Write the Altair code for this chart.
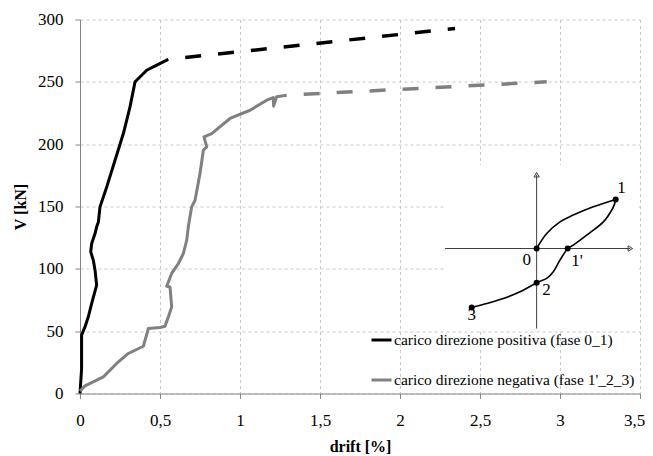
import altair as alt
import pandas as pd

# ---- main curves (drift [%], V [kN]) ----
serie_names = ["carico direzione positiva (fase 0_1)", "carico direzione negativa (fase 1'_2_3)"]
serie_colors = ["#000000", "#808080"]

pos_x = [0, 0.01, 0.01, 0.031, 0.052, 0.073, 0.104, 0.094, 0.083, 0.067, 0.073, 0.094, 0.104, 0.115,
         0.125, 0.167, 0.219, 0.271, 0.3125, 0.344, 0.354, 0.417, 0.458, 0.542, 0.552]
pos_y = [0, 20, 46.8, 53.4, 61.5, 72.2, 86.9, 98.9, 107, 113.6, 120.3, 128.3, 133.7, 137.6,
         149.7, 165.7, 187.1, 208.5, 229.9, 250, 251.3, 259.3, 262, 267.4, 268]

neg_x = [0, 0.031, 0.146, 0.229, 0.302, 0.396, 0.427, 0.5, 0.531, 0.552, 0.573, 0.5625, 0.542, 0.573,
         0.615, 0.646, 0.667, 0.677, 0.698, 0.719, 0.75, 0.771, 0.792, 0.775, 0.823, 0.9375, 1.0625,
         1.167, 1.208, 1.21, 1.229, 1.292]
neg_y = [2, 6.1, 13.3, 24.1, 32.1, 37.9, 52.1, 52.9, 54, 61.4, 69.5, 85.5, 86, 96.3,
         104.3, 112.3, 123, 133.7, 149.7, 155, 176.5, 195.2, 197.8, 205.8, 208.5, 220.6, 227.2,
         235.3, 237.4, 230.5, 238, 239.3]

# dashed extrapolations
pos_dash_x = [0.552, 2.344]
pos_dash_y = [268, 292.8]
neg_dash_x = [1.292, 2.917]
neg_dash_y = [239.3, 250]

# ---- inset sketch (in chart units) ----
box_x = [2.28, 3.49]
box_y = [51, 183]
inset_vaxis_x = [2.854, 2.854]
inset_vaxis_y = [52.1, 175.5]
inset_haxis_x = [2.281, 3.44]
inset_haxis_y = [116.3, 116.3]
arrow_x = [2.854, 3.44]
arrow_y = [175.5, 116.3]
arrow_shape = ["triangle-up", "triangle-right"]

up_x = [2.854, 2.917, 3.0, 3.083, 3.208, 3.348]
up_y = [116.3, 128.4, 137.7, 143.1, 149.7, 155.6]
low_x = [3.348, 3.329, 3.271, 3.167, 3.083, 3.048, 3.0, 2.958, 2.917, 2.854, 2.75, 2.646, 2.542, 2.448]
low_y = [155.6, 148.4, 137.7, 127.0, 119.0, 116.3, 107.0, 97.6, 92.3, 88.8, 81.6, 76.2, 72.2, 69.0]

pt_x = [2.854, 3.348, 3.048, 2.854, 2.448]
pt_y = [116.3, 155.6, 116.3, 88.8, 69.0]
lab_text = ["0", "1", "1'", "2", "3"]
lab_x = [2.792, 3.385, 3.106, 2.915, 2.448]
lab_y = [107.0, 164.5, 105.9, 82.9, 63.1]

x_ticks = [0, 0.5, 1, 1.5, 2, 2.5, 3, 3.5]
y_ticks = [0, 50, 100, 150, 200, 250, 300]

FONT = "'Liberation Serif', 'Times New Roman', 'DejaVu Serif', serif"

xscale = alt.Scale(domain=[0, 3.5], nice=False, zero=False)
yscale = alt.Scale(domain=[0, 300], nice=False, zero=False)
xaxis = alt.Axis(values=x_ticks, format=".1~f", labelExpr="replace(datum.label, '.', ',')",
                 tickSize=5, labelPadding=14, titlePadding=10, labelFlush=False,
                 labelOffset={"condition": {"test": "datum.value >= 3.5", "value": -6}, "value": 0})
yaxis = alt.Axis(values=y_ticks, format="d", tickSize=5, labelPadding=12, titlePadding=9,
                 labelFlush=False)


def X(f):
    return alt.X(f, type="quantitative", scale=xscale, axis=xaxis, title="drift [%]")


def Y(f):
    return alt.Y(f, type="quantitative", scale=yscale, axis=yaxis, title="V [kN]")


solid_df = pd.DataFrame({
    "drift": pos_x + neg_x,
    "V": pos_y + neg_y,
    "serie": [serie_names[0]] * len(pos_x) + [serie_names[1]] * len(neg_x),
    "ord": list(range(len(pos_x))) + list(range(len(neg_x))),
})

solid = alt.Chart(solid_df).mark_line(strokeWidth=3, strokeJoin="round").encode(
    x=X("drift"), y=Y("V"), order="ord:Q",
    color=alt.Color("serie:N", scale=alt.Scale(domain=serie_names, range=serie_colors),
                    legend=alt.Legend(orient="none", legendX=290, legendY=309, title=None,
                                      symbolType="stroke", symbolStrokeWidth=3, symbolSize=400,
                                      labelFont=FONT, labelFontSize=15.5, labelColor="black",
                                      rowPadding=20, labelLimit=500, labelOffset=1, padding=0)),
)

dash_pos = alt.Chart(pd.DataFrame({"drift": pos_dash_x, "V": pos_dash_y})).mark_line(
    strokeWidth=3.5, color=serie_colors[0], strokeDash=[16, 17], strokeDashOffset=16
).encode(x=X("drift"), y=Y("V"))

dash_neg = alt.Chart(pd.DataFrame({"drift": neg_dash_x, "V": neg_dash_y})).mark_line(
    strokeWidth=3.5, color=serie_colors[1], strokeDash=[16, 17], strokeDashOffset=16
).encode(x=X("drift"), y=Y("V"))

box = alt.Chart(pd.DataFrame({"x0": [box_x[0]], "x1": [box_x[1]], "y0": [box_y[0]], "y1": [box_y[1]]})).mark_rect(
    color="white"
).encode(x=X("x0"), x2="x1", y=Y("y0"), y2="y1")

vax = alt.Chart(pd.DataFrame({"drift": inset_vaxis_x, "V": inset_vaxis_y})).mark_line(
    color="#404040", strokeWidth=1).encode(x=X("drift"), y=Y("V"))
hax = alt.Chart(pd.DataFrame({"drift": inset_haxis_x, "V": inset_haxis_y})).mark_line(
    color="#404040", strokeWidth=1).encode(x=X("drift"), y=Y("V"))
arrows = alt.Chart(pd.DataFrame({"drift": arrow_x, "V": arrow_y, "shape": arrow_shape})).mark_point(
    filled=False, color="#404040", size=28, strokeWidth=1, opacity=1
).encode(x=X("drift"), y=Y("V"), shape=alt.Shape("shape:N", scale=None, legend=None))

up = alt.Chart(pd.DataFrame({"drift": up_x, "V": up_y, "o": list(range(len(up_x)))})).mark_line(
    color="black", strokeWidth=1.6, interpolate="cardinal").encode(x=X("drift"), y=Y("V"), order="o:Q")
low = alt.Chart(pd.DataFrame({"drift": low_x, "V": low_y, "o": list(range(len(low_x)))})).mark_line(
    color="black", strokeWidth=1.6, interpolate="cardinal").encode(x=X("drift"), y=Y("V"), order="o:Q")
pts = alt.Chart(pd.DataFrame({"drift": pt_x, "V": pt_y})).mark_circle(
    color="black", size=36, opacity=1).encode(x=X("drift"), y=Y("V"))
labs = alt.Chart(pd.DataFrame({"drift": lab_x, "V": lab_y, "t": lab_text})).mark_text(
    font=FONT, fontSize=17, color="black", align="center", baseline="middle"
).encode(x=X("drift"), y=Y("V"), text="t:N")

chart = alt.layer(solid, dash_pos, dash_neg, box, vax, hax, arrows, up, low, pts, labs).properties(
    width=560, height=374, autosize=alt.AutoSizeParams(type="none"),
    padding={"left": 72, "top": 11.5, "right": 5, "bottom": 62}
).configure_view(stroke=None).configure_axis(
    domainColor="#868686", tickColor="#868686", gridColor="#c8c8c8", gridDash=[3, 3],
    labelFont=FONT, labelFontSize=17, labelColor="black",
    titleFont=FONT, titleFontSize=16, titleFontWeight="bold", titleColor="black"
)

chart.save("out.html", embed_options={"renderer": "svg", "actions": False})
